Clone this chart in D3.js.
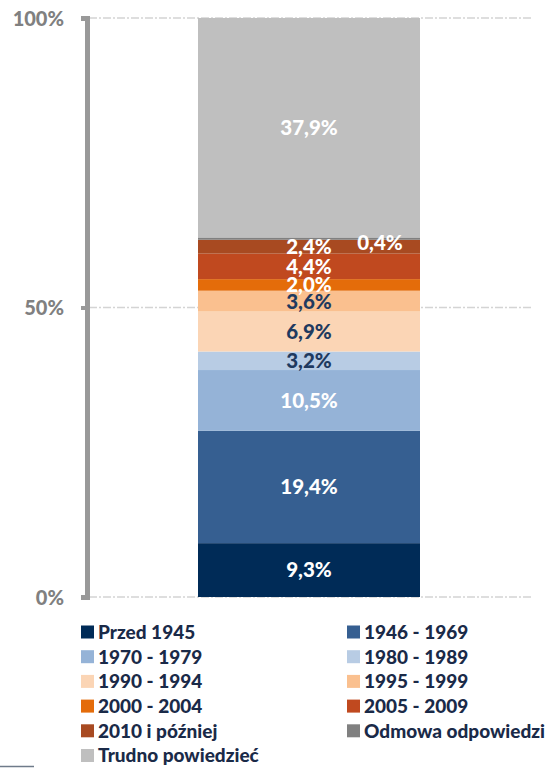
<!DOCTYPE html>
<html>
<head>
<meta charset="utf-8">
<script src="https://d3js.org/d3.v7.min.js"></script>
<style>
  body { margin: 0; background: #fff; }
  svg text { font-family: Lato, "Open Sans", sans-serif; font-weight: 900; }
</style>
</head>
<body>
<svg width="555" height="768"></svg>
<script>
var categories = ["Przed 1945", "1946 - 1969", "1970 - 1979", "1980 - 1989", "1990 - 1994",
  "1995 - 1999", "2000 - 2004", "2005 - 2009", "2010 i później", "Odmowa odpowiedzi", "Trudno powiedzieć"];
var values = [9.3, 19.4, 10.5, 3.2, 6.9, 3.6, 2.0, 4.4, 2.4, 0.4, 37.9];
var colors = ["#002b57", "#365f91", "#95b3d7", "#b8cce4", "#fbd5b5", "#fac08f",
  "#e46c0a", "#c0491f", "#a84a21", "#808080", "#bfbfbf"];
var labelColors = ["#fff", "#fff", "#fff", "#1f3a5f", "#1f3a5f", "#1f3a5f",
  "#fff", "#fff", "#fff", "#fff", "#fff"];
var yTicks = [0, 50, 100];

var svg = d3.select("svg");
var y = d3.scaleLinear().domain([0, 100]).range([597, 18]);

// gridlines
svg.selectAll(".grid").data(yTicks).enter().append("line")
  .attr("x1", 89).attr("x2", 531)
  .attr("y1", d => y(d)).attr("y2", d => y(d))
  .attr("stroke", "#d4d4d4").attr("stroke-width", 1.3)
  .attr("stroke-dasharray", "8,2,2,2");

// stacked segments
var stack = [];
var acc = 0;
values.forEach(function(v, i) {
  stack.push({cat: categories[i], v: v, y0: acc, y1: acc + v, i: i});
  acc += v;
});

var bx = 198, bw = 222;
svg.selectAll(".seg").data(stack).enter().append("rect")
  .attr("x", bx).attr("width", bw)
  .attr("y", d => y(d.y1)).attr("height", d => y(d.y0) - y(d.y1))
  .attr("fill", d => colors[d.i]);

// axis
var axis = svg.append("g").attr("transform", "translate(87,0)")
  .call(d3.axisLeft(y).tickValues(yTicks).tickSize(6).tickFormat(d => d + "%"));
axis.select(".domain").attr("stroke", "#999").attr("stroke-width", 5);
axis.selectAll(".tick line").attr("stroke", "#999").attr("stroke-width", 4);
axis.selectAll(".tick text").attr("fill", "#808080").attr("font-size", 20)
  .attr("x", -23).attr("dy", "0.36em");

// labels
var fmt = d => d.toFixed(1).replace(".", ",") + "%";
svg.selectAll(".lbl").data(stack).enter().append("text")
  .attr("text-anchor", "middle")
  .attr("x", d => d.i === 9 ? bx + bw / 2 + 71 : bx + bw / 2)
  .attr("y", d => (y(d.y0) + y(d.y1)) / 2 + (d.i === 9 ? 4 : 0))
  .attr("dy", "0.36em")
  .attr("font-size", 20.5)
  .attr("fill", d => labelColors[d.i])
  .text(d => fmt(d.v));

// legend
var leg = svg.selectAll(".leg").data(categories).enter().append("g")
  .attr("transform", (d, i) => "translate(" + (i % 2 === 0 ? 81 : 347) + "," + (632 + Math.floor(i / 2) * 24.7) + ")");
leg.append("rect").attr("x", 0).attr("y", -6.5).attr("width", 13).attr("height", 13)
  .attr("fill", (d, i) => colors[i]);
leg.append("text").attr("x", 17).attr("dy", "0.36em").attr("font-size", 19)
  .attr("fill", "#1a2a48").text(d => d);

svg.append("line").attr("x1", 0).attr("x2", 34).attr("y1", 766.5).attr("y2", 766.5)
  .attr("stroke", "#6f7b8a").attr("stroke-width", 1.5);
</script>
</body>
</html>
